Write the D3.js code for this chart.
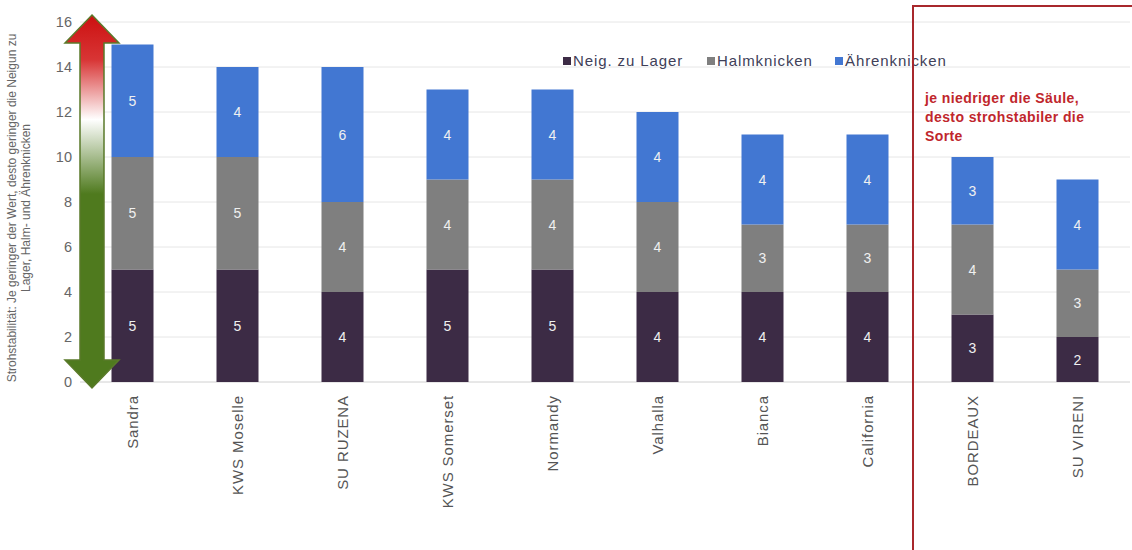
<!DOCTYPE html>
<html>
<head>
<meta charset="utf-8">
<script src="https://cdn.jsdelivr.net/npm/d3@7"></script>
<style>
  body { margin: 0; background: #fff; }
  svg { font-family: "Liberation Sans", Arial, sans-serif; }
</style>
</head>
<body>
<svg id="chart" width="1132" height="550"></svg>
<script>
// Sorten und Werte
const sorten = ["Sandra", "KWS Moselle", "SU RUZENA", "KWS Somerset", "Normandy",
                "Valhalla", "Bianca", "California", "BORDEAUX", "SU VIRENI"];
const neigLager = [5, 5, 4, 5, 5, 4, 4, 4, 3, 2];
const halmknicken = [5, 5, 4, 4, 4, 4, 3, 3, 4, 3];
const aehrenknicken = [5, 4, 6, 4, 4, 4, 4, 4, 3, 4];
const serien = ["Neig. zu Lager", "Halmknicken", "Ährenknicken"];
const farben = ["#3c2b45", "#7f7f7f", "#4277d2"];
const yTicks = [0, 2, 4, 6, 8, 10, 12, 14, 16];

const svg = d3.select("#chart");

const x = d3.scaleBand()
    .domain(sorten)
    .range([80, 1130])
    .paddingInner(0.6)
    .paddingOuter(0.3);

const y = d3.scaleLinear()
    .domain([0, 16])
    .range([382, 22]);

// Tabelle fuer d3.stack
const table = sorten.map((s, i) => ({
    sorte: s,
    "Neig. zu Lager": neigLager[i],
    "Halmknicken": halmknicken[i],
    "Ährenknicken": aehrenknicken[i]
}));
const stacked = d3.stack().keys(serien)(table);

// Gitterlinien
svg.append("g")
    .selectAll("line")
    .data(yTicks)
    .join("line")
    .attr("x1", 80)
    .attr("x2", 1130)
    .attr("y1", d => y(d))
    .attr("y2", d => y(d))
    .attr("stroke", d => d === 0 ? "#d0d0d0" : "#e6e6e6")
    .attr("stroke-width", 1);

// Y-Achse
const yAxis = svg.append("g")
    .attr("transform", "translate(72,0)")
    .call(d3.axisLeft(y).tickValues(yTicks).tickSize(0).tickPadding(0));
yAxis.select(".domain").remove();
yAxis.selectAll("text")
    .attr("fill", "#666")
    .style("font-size", "14.5px");

// Y-Achsentitel
svg.append("text")
    .attr("transform", "translate(16,208) rotate(-90)")
    .attr("text-anchor", "middle")
    .attr("fill", "#666")
    .style("font-size", "12px")
    .text("Strohstabilität: Je geringer der Wert, desto geringer die Neigun zu");
svg.append("text")
    .attr("transform", "translate(30,208) rotate(-90)")
    .attr("text-anchor", "middle")
    .attr("fill", "#666")
    .style("font-size", "12px")
    .text("Lager, Halm- und Ährenknicken");

// Balken
const layer = svg.append("g")
    .selectAll("g")
    .data(stacked)
    .join("g")
    .attr("fill", (d, i) => farben[i]);

layer.selectAll("rect")
    .data(d => d)
    .join("rect")
    .attr("x", d => x(d.data.sorte))
    .attr("width", x.bandwidth())
    .attr("y", d => y(d[1]))
    .attr("height", d => y(d[0]) - y(d[1]));

layer.selectAll("text")
    .data(d => d)
    .join("text")
    .attr("x", d => x(d.data.sorte) + x.bandwidth() / 2)
    .attr("y", d => (y(d[0]) + y(d[1])) / 2 + 5)
    .attr("text-anchor", "middle")
    .attr("fill", "#f0f0f0")
    .style("font-size", "14px")
    .text(d => d[1] - d[0]);

// X-Achsenbeschriftung
svg.append("g")
    .selectAll("text")
    .data(sorten)
    .join("text")
    .attr("transform", d => `translate(${x(d) + x.bandwidth() / 2 + 5},395) rotate(-90)`)
    .attr("text-anchor", "end")
    .attr("fill", "#555")
    .style("font-size", "15px")
    .style("letter-spacing", "0.9px")
    .text(d => d);

// Pfeil mit Farbverlauf
const defs = svg.append("defs");
const grad = defs.append("linearGradient")
    .attr("id", "pfeilGrad")
    .attr("x1", 0).attr("y1", 0)
    .attr("x2", 0).attr("y2", 1);
grad.append("stop").attr("offset", "0%").attr("stop-color", "#cc1010");
grad.append("stop").attr("offset", "12%").attr("stop-color", "#d83535");
grad.append("stop").attr("offset", "28%").attr("stop-color", "#ffffff");
grad.append("stop").attr("offset", "48%").attr("stop-color", "#4f7a1e");
grad.append("stop").attr("offset", "100%").attr("stop-color", "#4f7a1e");

const pX = 92, pTop = 15, pBot = 388, pHead = 28, pHw = 27, pSw = 12;
const pfeil = [
    [pX, pTop], [pX + pHw, pTop + pHead], [pX + pSw, pTop + pHead],
    [pX + pSw, pBot - pHead], [pX + pHw, pBot - pHead], [pX, pBot],
    [pX - pHw, pBot - pHead], [pX - pSw, pBot - pHead], [pX - pSw, pTop + pHead],
    [pX - pHw, pTop + pHead]
];
svg.append("path")
    .attr("d", d3.line()(pfeil) + "Z")
    .attr("fill", "url(#pfeilGrad)")
    .attr("stroke", "#5a7a2a")
    .attr("stroke-width", 1.5);

// Legende
const legend = svg.append("g")
    .attr("transform", "translate(563,66)");
const legX = [0, 144, 272];
serien.forEach((s, i) => {
    legend.append("rect")
        .attr("x", legX[i])
        .attr("y", -9)
        .attr("width", 8)
        .attr("height", 8)
        .attr("fill", farben[i]);
    legend.append("text")
        .attr("x", legX[i] + 10)
        .attr("y", 0)
        .attr("fill", "#404058")
        .style("font-size", "15px")
        .style("letter-spacing", "0.9px")
        .text(s);
});

// Roter Rahmen und Hinweis
svg.append("rect")
    .attr("x", 913)
    .attr("y", 6)
    .attr("width", 240)
    .attr("height", 560)
    .attr("fill", "none")
    .attr("stroke", "#a8282c")
    .attr("stroke-width", 2);

const hinweis = ["je niedriger die Säule,", "desto strohstabiler die", "Sorte"];
svg.append("g")
    .selectAll("text")
    .data(hinweis)
    .join("text")
    .attr("x", 925)
    .attr("y", (d, i) => 103 + i * 19)
    .attr("fill", "#c0262c")
    .style("font-size", "14px")
    .style("font-weight", "bold")
    .style("letter-spacing", "0.4px")
    .text(d => d);
</script>
</body>
</html>
